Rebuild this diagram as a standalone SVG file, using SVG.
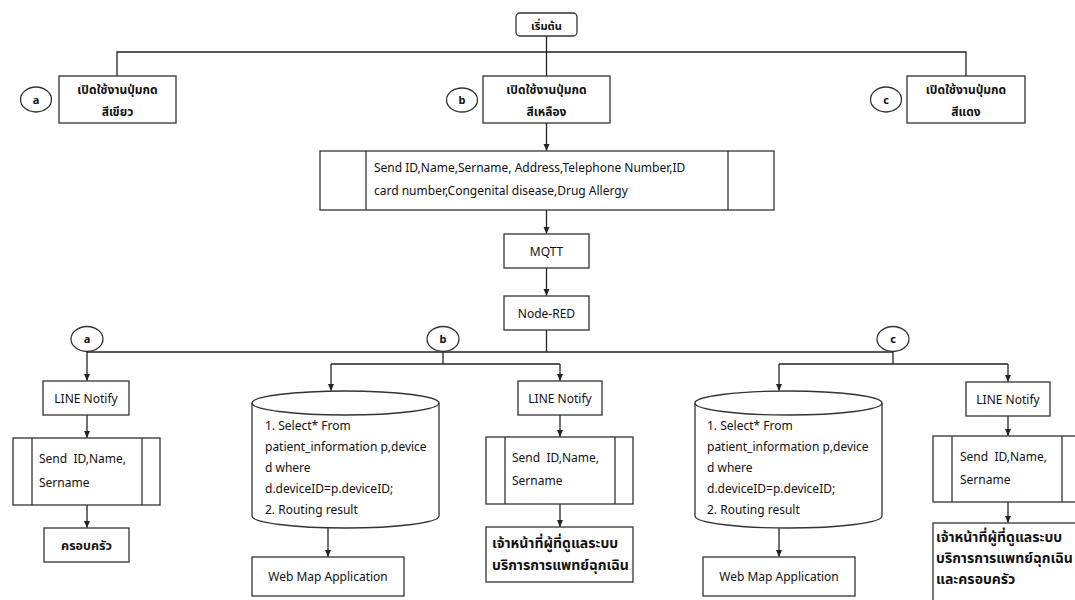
<svg xmlns="http://www.w3.org/2000/svg" width="1075" height="600" viewBox="0 0 1075 600">
<defs>
<marker id="arr" markerWidth="8" markerHeight="8" refX="7" refY="4" orient="auto" markerUnits="userSpaceOnUse">
<path class="head" d="M0,0.8 L7.5,4 L0,7.2 Z"/>
</marker>
<style>
rect,path,ellipse,line{fill:#fff;stroke:#333;stroke-width:1.3}
.c path,.c line{fill:none;stroke:#222;stroke-width:1.3}
marker path.head{fill:#222;stroke:none}
.a{marker-end:url(#arr)}
.bg{fill:#fff;stroke:none}
text{font-family:"Noto Sans","Noto Sans Thai","Liberation Sans",sans-serif;font-size:12px;fill:#111}
.th{font-family:"Noto Sans Thai","Noto Sans","Liberation Sans",sans-serif;font-weight:bold;font-size:12px}
.tl{font-size:14px}
.m{text-anchor:middle}
.k{font-size:11px;font-weight:bold}
.ln{fill:none}
</style>
</defs>
<rect class="bg" width="1075" height="600"/>

<g class="c" id="connectors">
<path d="M117,76 V52 H966 V76"/>
<line x1="546.5" y1="36" x2="546.5" y2="76"/>
<path class="a" d="M546.5,123 V150.5"/>
<path class="a" d="M546.5,210 V233.5"/>
<path class="a" d="M546.5,268 V295.5"/>
<path d="M546.5,330 V352 M87,352 H893"/>
<path class="a" d="M87,352 V380.5"/>
<path d="M443,352 V364 M331,364 H560 M893,352 V364 M779,364 H1008"/>
<path class="a" d="M331,364 V390.5"/>
<path class="a" d="M560,364 V380.5"/>
<path class="a" d="M779,364 V390.5"/>
<path class="a" d="M1008,364 V381.5"/>
<path class="a" d="M87,415 V437.5"/>
<path class="a" d="M87,505 V527.5"/>
<path class="a" d="M328,528 V556.5"/>
<path class="a" d="M560,415 V436.5"/>
<path class="a" d="M560,504 V526.5"/>
<path class="a" d="M779,528 V556.5"/>
<path class="a" d="M1008,416 V435.5"/>
<path class="a" d="M1008,502 V522.5"/>
</g>

<g id="start">
<rect x="516" y="13" width="61" height="23" rx="4"/>
<text class="th m" x="546.5" y="29.5" style="font-size:11px">เริ่มต้น</text>
</g>

<g id="conn-a-top"><ellipse cx="36" cy="99.5" rx="15.5" ry="12.5"/><text class="m k" x="36" y="103.5">a</text></g>
<g id="conn-b-top"><ellipse cx="462" cy="100" rx="15.5" ry="12"/><text class="m k" x="462" y="104">b</text></g>
<g id="conn-c-top"><ellipse cx="886" cy="99.5" rx="15.5" ry="12.5"/><text class="m k" x="886" y="103.5">c</text></g>

<g id="btn-green">
<rect x="59" y="76" width="117" height="47"/>
<text class="th m" x="117.5" y="94">เปิดใช้งานปุ่มกด</text>
<text class="th m" x="117.5" y="116">สีเขียว</text>
</g>
<g id="btn-yellow">
<rect x="483" y="76" width="127" height="47"/>
<text class="th m" x="546.5" y="94">เปิดใช้งานปุ่มกด</text>
<text class="th m" x="546.5" y="116">สีเหลือง</text>
</g>
<g id="btn-red">
<rect x="907" y="76" width="118" height="47"/>
<text class="th m" x="966" y="94">เปิดใช้งานปุ่มกด</text>
<text class="th m" x="966" y="116">สีแดง</text>
</g>

<g id="send-all">
<rect x="320" y="151" width="454" height="59"/>
<line x1="366" y1="151" x2="366" y2="210"/>
<line x1="728" y1="151" x2="728" y2="210"/>
<text x="374" y="172">Send ID,Name,Sername, Address,Telephone Number,ID</text>
<text x="374" y="195">card number,Congenital disease,Drug Allergy</text>
</g>

<g id="mqtt">
<rect x="504" y="234" width="85" height="34"/>
<text class="m" x="546.5" y="255.5">MQTT</text>
</g>
<g id="nodered">
<rect x="504" y="296" width="85" height="34"/>
<text class="m" x="546.5" y="317.5">Node-RED</text>
</g>

<g id="conn-a-bot"><ellipse cx="87" cy="339" rx="16" ry="12.5"/><text class="m k" x="87" y="343">a</text></g>
<g id="conn-b-bot"><ellipse cx="443" cy="339" rx="16" ry="12.5"/><text class="m k" x="443" y="343">b</text></g>
<g id="conn-c-bot"><ellipse cx="893" cy="339" rx="16" ry="12.5"/><text class="m k" x="893" y="343">c</text></g>

<g id="line-a">
<rect x="43" y="381" width="86" height="34"/>
<text class="m" x="86" y="402.5">LINE Notify</text>
</g>
<g id="send-a">
<rect x="13" y="438" width="147" height="67"/>
<line x1="32" y1="438" x2="32" y2="505"/>
<line x1="142" y1="438" x2="142" y2="505"/>
<text x="39" y="463">Send&#160; ID,Name,</text>
<text x="39" y="487">Sername</text>
</g>
<g id="family-a">
<rect x="44" y="528" width="85" height="34"/>
<text class="th m" x="86.5" y="550" style="font-size:12.5px">ครอบครัว</text>
</g>

<g id="db-b">
<path d="M252,403 A93.5,12 0 0 1 439,403 L439,516 A93.5,12 0 0 1 252,516 Z"/>
<path class="ln" d="M252,403 A93.5,12 0 0 0 439,403"/>
<text x="265" y="430">1. Select* From</text>
<text x="265" y="451">patient_information p,device</text>
<text x="265" y="472">d where</text>
<text x="265" y="493">d.deviceID=p.deviceID;</text>
<text x="265" y="514">2. Routing result</text>
</g>
<g id="web-b">
<rect x="252" y="557" width="152" height="39"/>
<text class="m" x="328" y="581">Web Map Application</text>
</g>

<g id="line-b">
<rect x="518" y="381" width="84" height="34"/>
<text class="m" x="560" y="402.5">LINE Notify</text>
</g>
<g id="send-b">
<rect x="486" y="437" width="147" height="67"/>
<line x1="505" y1="437" x2="505" y2="504"/>
<line x1="615" y1="437" x2="615" y2="504"/>
<text x="512" y="462">Send&#160; ID,Name,</text>
<text x="512" y="485">Sername</text>
</g>
<g id="staff-b">
<rect x="486" y="527" width="147" height="55"/>
<text class="th tl" x="492" y="548">เจ้าหน้าที่ผู้ที่ดูแลระบบ</text>
<text class="th tl" x="492" y="570">บริการการแพทย์ฉุกเฉิน</text>
</g>

<g id="db-c">
<path d="M695,403 A93.5,12 0 0 1 882,403 L882,516 A93.5,12 0 0 1 695,516 Z"/>
<path class="ln" d="M695,403 A93.5,12 0 0 0 882,403"/>
<text x="707" y="430">1. Select* From</text>
<text x="707" y="451">patient_information p,device</text>
<text x="707" y="472">d where</text>
<text x="707" y="493">d.deviceID=p.deviceID;</text>
<text x="707" y="514">2. Routing result</text>
</g>
<g id="web-c">
<rect x="703" y="557" width="152" height="39"/>
<text class="m" x="779" y="581">Web Map Application</text>
</g>

<g id="line-c">
<rect x="966" y="382" width="84" height="34"/>
<text class="m" x="1008" y="403.5">LINE Notify</text>
</g>
<g id="send-c">
<rect x="933" y="436" width="150" height="66"/>
<line x1="952" y1="436" x2="952" y2="502"/>
<line x1="1062" y1="436" x2="1062" y2="502"/>
<text x="960" y="461">Send&#160; ID,Name,</text>
<text x="960" y="484">Sername</text>
</g>
<g id="staff-c">
<rect x="933" y="523" width="150" height="90"/>
<text class="th tl" x="936" y="542">เจ้าหน้าที่ผู้ที่ดูแลระบบ</text>
<text class="th tl" x="936" y="563">บริการการแพทย์ฉุกเฉิน</text>
<text class="th tl" x="936" y="584">และครอบครัว</text>
</g>
</svg>
